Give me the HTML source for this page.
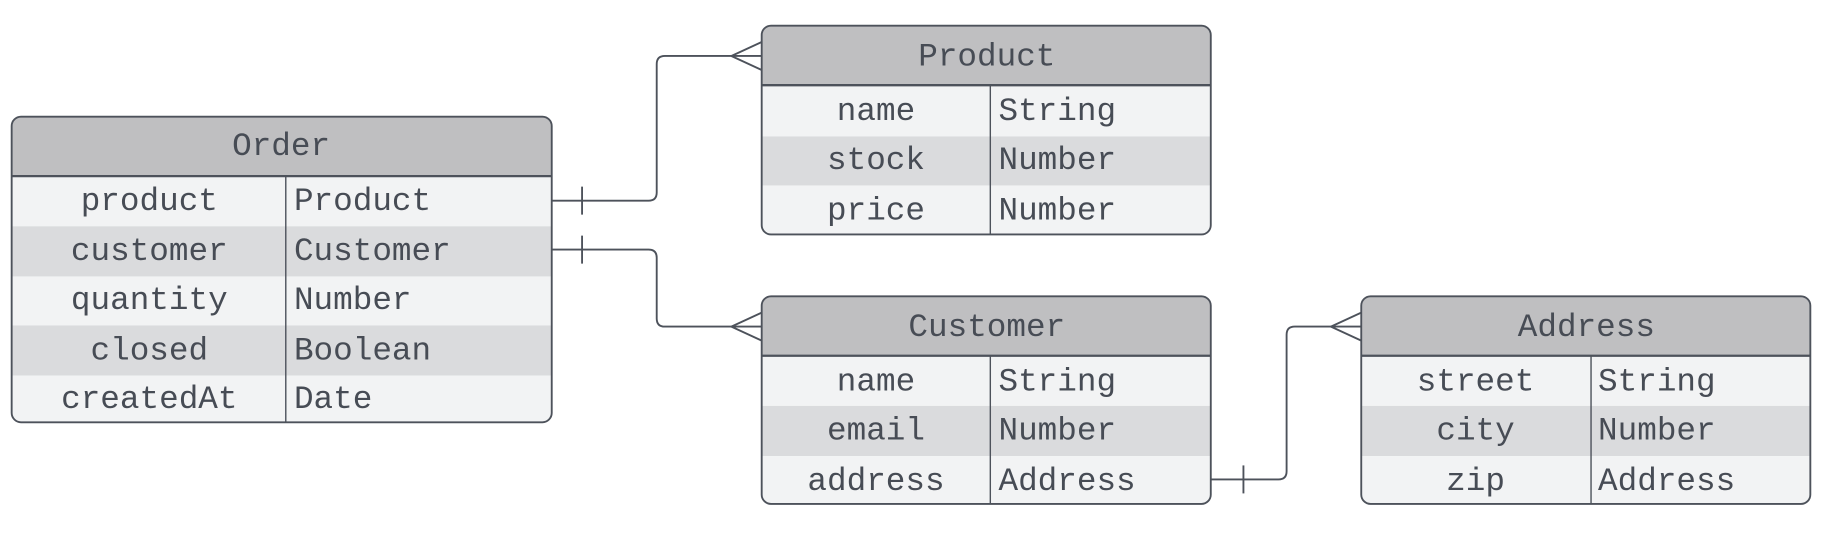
<!DOCTYPE html>
<html><head><meta charset="utf-8"><style>
html,body{margin:0;padding:0;background:#fff;}
svg{display:block;}
text{font-family:"Liberation Mono",monospace;font-size:28px;fill:#474c55;}
</style></head><body>
<svg width="1829" height="541" viewBox="0 0 1568 463.8" preserveAspectRatio="none" xmlns="http://www.w3.org/2000/svg">
<defs>
<clipPath id="c1"><rect x="10" y="100" width="463" height="262" rx="8"/></clipPath>
<clipPath id="c2"><rect x="653" y="22" width="385" height="179" rx="8"/></clipPath>
<clipPath id="c3"><rect x="653" y="254" width="385" height="178" rx="8"/></clipPath>
<clipPath id="c4"><rect x="1167" y="254" width="385" height="178" rx="8"/></clipPath>
</defs>
<g stroke="#4d525b" stroke-width="1.6" fill="none">
<path d="M473 172 H556 Q563 172 563 165 V55 Q563 48 570 48 H653"/>
<path d="M499 160 V184"/>
<path d="M627 48 L653 36 M627 48 L653 60"/>
<path d="M473 214 H556 Q563 214 563 221 V273 Q563 280 570 280 H653"/>
<path d="M499 202 V226"/>
<path d="M627 280 L653 268 M627 280 L653 292"/>
<path d="M1038 411 H1096 Q1103 411 1103 404 V287 Q1103 280 1110 280 H1167"/>
<path d="M1066 399 V423"/>
<path d="M1141 280 L1167 268 M1141 280 L1167 292"/>
</g>

<g clip-path="url(#c1)">
<rect x="10" y="100" width="463" height="51" fill="#bfbfc1"/>
<rect x="10" y="151" width="463" height="43" fill="#f2f3f4"/>
<rect x="10" y="194" width="463" height="43" fill="#dadbdd"/>
<rect x="10" y="237" width="463" height="42" fill="#f2f3f4"/>
<rect x="10" y="279" width="463" height="43" fill="#dadbdd"/>
<rect x="10" y="322" width="463" height="40" fill="#f2f3f4"/>
</g>
<rect x="10" y="100" width="463" height="262" rx="8" fill="none" stroke="#4d525b" stroke-width="1.6"/>
<line x1="10" y1="151" x2="473" y2="151" stroke="#4d525b" stroke-width="2"/>
<line x1="245" y1="151" x2="245" y2="362" stroke="#4d525b" stroke-width="1.2"/>
<text x="241" y="133" text-anchor="middle">Order</text>
<text x="128" y="180" text-anchor="middle">product</text><text x="252" y="180">Product</text>
<text x="128" y="223" text-anchor="middle">customer</text><text x="252" y="223">Customer</text>
<text x="128" y="265" text-anchor="middle">quantity</text><text x="252" y="265">Number</text>
<text x="128" y="308" text-anchor="middle">closed</text><text x="252" y="308">Boolean</text>
<text x="128" y="350" text-anchor="middle">createdAt</text><text x="252" y="350">Date</text>

<g clip-path="url(#c2)">
<rect x="653" y="22" width="385" height="51" fill="#bfbfc1"/>
<rect x="653" y="73" width="385" height="44" fill="#f2f3f4"/>
<rect x="653" y="117" width="385" height="42" fill="#dadbdd"/>
<rect x="653" y="159" width="385" height="42" fill="#f2f3f4"/>
</g>
<rect x="653" y="22" width="385" height="179" rx="8" fill="none" stroke="#4d525b" stroke-width="1.6"/>
<line x1="653" y1="73" x2="1038" y2="73" stroke="#4d525b" stroke-width="2"/>
<line x1="849" y1="73" x2="849" y2="201" stroke="#4d525b" stroke-width="1.2"/>
<text x="846" y="56" text-anchor="middle">Product</text>
<text x="751" y="103" text-anchor="middle">name</text><text x="856" y="103">String</text>
<text x="751" y="145" text-anchor="middle">stock</text><text x="856" y="145">Number</text>
<text x="751" y="188" text-anchor="middle">price</text><text x="856" y="188">Number</text>

<g clip-path="url(#c3)">
<rect x="653" y="254" width="385" height="51" fill="#bfbfc1"/>
<rect x="653" y="305" width="385" height="43" fill="#f2f3f4"/>
<rect x="653" y="348" width="385" height="43" fill="#dadbdd"/>
<rect x="653" y="391" width="385" height="41" fill="#f2f3f4"/>
</g>
<rect x="653" y="254" width="385" height="178" rx="8" fill="none" stroke="#4d525b" stroke-width="1.6"/>
<line x1="653" y1="305" x2="1038" y2="305" stroke="#4d525b" stroke-width="2"/>
<line x1="849" y1="305" x2="849" y2="432" stroke="#4d525b" stroke-width="1.2"/>
<text x="846" y="288" text-anchor="middle">Customer</text>
<text x="751" y="335" text-anchor="middle">name</text><text x="856" y="335">String</text>
<text x="751" y="377" text-anchor="middle">email</text><text x="856" y="377">Number</text>
<text x="751" y="420" text-anchor="middle">address</text><text x="856" y="420">Address</text>

<g clip-path="url(#c4)">
<rect x="1167" y="254" width="385" height="51" fill="#bfbfc1"/>
<rect x="1167" y="305" width="385" height="43" fill="#f2f3f4"/>
<rect x="1167" y="348" width="385" height="43" fill="#dadbdd"/>
<rect x="1167" y="391" width="385" height="41" fill="#f2f3f4"/>
</g>
<rect x="1167" y="254" width="385" height="178" rx="8" fill="none" stroke="#4d525b" stroke-width="1.6"/>
<line x1="1167" y1="305" x2="1552" y2="305" stroke="#4d525b" stroke-width="2"/>
<line x1="1364" y1="305" x2="1364" y2="432" stroke="#4d525b" stroke-width="1.2"/>
<text x="1360" y="288" text-anchor="middle">Address</text>
<text x="1265" y="335" text-anchor="middle">street</text><text x="1370" y="335">String</text>
<text x="1265" y="377" text-anchor="middle">city</text><text x="1370" y="377">Number</text>
<text x="1265" y="420" text-anchor="middle">zip</text><text x="1370" y="420">Address</text>
</svg>
</body></html>
